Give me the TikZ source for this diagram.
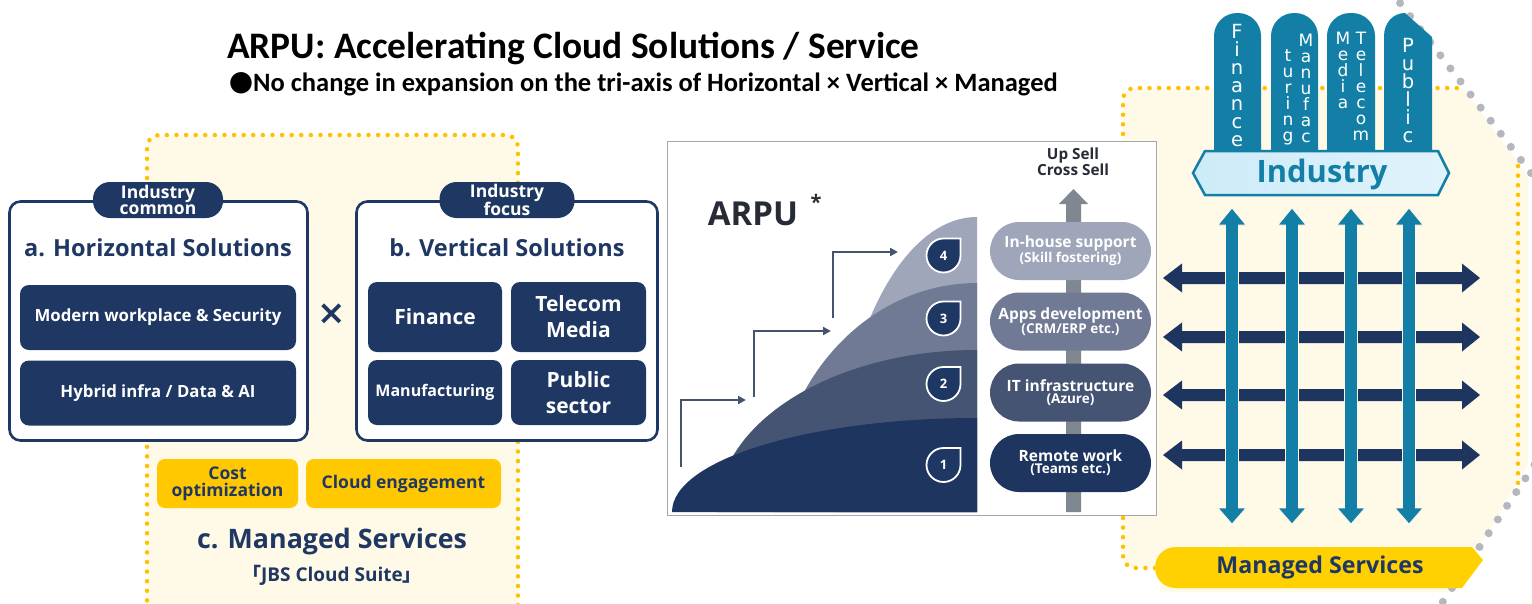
\documentclass[tikz,border=0pt]{standalone}
\usepackage{fontspec}
\setmainfont{Open Sans}
\newfontfamily\calfont{Carlito}
\newfontfamily\dejafont{DejaVu Sans}
\newfontfamily\cjkfont{Noto Sans CJK JP}
\usetikzlibrary{arrows.meta}
\newcommand\fsz[2]{\fontsize{#1}{#2}\selectfont}

\definecolor{navy}{HTML}{1F3763}
\definecolor{slate}{HTML}{44546A}
\definecolor{layA}{HTML}{1E3560}
\definecolor{layB}{HTML}{465474}
\definecolor{layC}{HTML}{707A94}
\definecolor{layD}{HTML}{9FA6BA}
\definecolor{upgray}{HTML}{7F8790}
\definecolor{gold}{HTML}{FFC800}
\definecolor{goldpill}{HTML}{FFD100}
\definecolor{dotgold}{HTML}{FFC000}
\definecolor{cream}{HTML}{FFF9E7}
\definecolor{dotgray}{HTML}{B4B7BD}
\definecolor{tealc}{HTML}{137FA6}
\definecolor{icebl}{HTML}{CDEBF8}
\definecolor{icebr}{HTML}{E0F3FC}
\definecolor{panelgray}{HTML}{A6A6A6}
\definecolor{inkdark}{HTML}{262B36}

\begin{document}
\begin{tikzpicture}[x=1pt,y=-1pt,
  outerbox/.style={draw=navy, line width=2.6pt, fill=white, rounded corners=11pt, inner sep=0pt},
  tabpill/.style={fill=navy, rounded corners=17pt, text=white, font=\bfseries\fsz{17.5}{16},
    align=center, inner sep=0pt, minimum height=36},
  heading/.style={text=navy, font=\bfseries\fsz{23.5}{26}, inner sep=0pt},
  navybox/.style={fill=navy, rounded corners=9pt, text=white, font=\bfseries\fsz{16.8}{18},
    align=center, inner sep=0pt},
  vbox/.style={navybox, font=\bfseries\fsz{21}{26}},
  ybox/.style={fill=gold, rounded corners=8pt, text=navy, font=\bfseries\fsz{17.5}{17},
    align=center, inner sep=0pt, minimum height=49},
  pill/.style={rounded corners=29pt, minimum width=161, minimum height=58, text=white,
    align=center, inner sep=0pt, font=\bfseries},
  badgenum/.style={text=white, font=\bfseries\fsz{13}{13}, inner sep=0pt},
  badgeshape/.style={fill=navy, draw=white, line width=1.8pt},
  steparrow/.style={draw=slate, line width=2pt, -{Triangle[length=8pt,width=8pt]}},
  yellowdots/.style={draw=dotgold, line width=4.5pt, line cap=round, dash pattern=on 0pt off 9.6pt},
  graydots/.style={draw=dotgray, line width=8pt, line cap=round, dash pattern=on 0pt off 16.5pt},
  pillarletters/.style={text=white, font=\dejafont\fsz{19.5}{18}, align=center, inner sep=0pt},
  pillarsmall/.style={text=white, font=\dejafont\fsz{17}{16}, align=center, inner sep=0pt},
]
\useasboundingbox (0,0) rectangle (1532,603);
\fill[white] (0,0) rectangle (1532,603);

% ---------- heading ----------
\node[anchor=base west, inner sep=0pt, font=\calfont\bfseries\fsz{37.4}{38}] (title) at (227,58)
  {ARPU: Accelerating Cloud Solutions / Service};
\node[inner sep=0pt, font=\dejafont\fsz{28}{28}] (bullet) at (241,83) {●};
\node[anchor=base west, inner sep=0pt, font=\calfont\bfseries\fsz{26.5}{27}] (subtitle) at (253,91)
  {No change in expansion on the tri-axis of Horizontal × Vertical × Managed};

% ---------- left: managed services backdrop ----------
\path[fill=cream, rounded corners=12pt] (147,640) -- (147,135) -- (518,135) -- (518,640) -- cycle;
\draw[yellowdots, rounded corners=12pt] (147,610) -- (147,135) -- (518,135) -- (518,610);

% a. Horizontal Solutions
\node[outerbox, minimum width=298, minimum height=239] (boxA) at (158.5,321) {};
\node[tabpill, minimum width=130] (tabA) at (158,200) {Industry\\common};
\node[heading] (headA) at (158,248) {a. Horizontal Solutions};
\node[navybox, minimum width=276, minimum height=65] (mw) at (158,317.5) {Modern workplace \& Security};
\node[navybox, minimum width=276, minimum height=65] (hy) at (158,393) {Hybrid infra / Data \& AI};

\node[text=navy, inner sep=0pt, font=\dejafont\bfseries\fsz{34}{34}] (times) at (332,314) {×};

% b. Vertical Solutions
\node[outerbox, minimum width=301, minimum height=239] (boxB) at (507,321) {};
\node[tabpill, minimum width=135] (tabB) at (507,200) {Industry\\focus};
\node[heading] (headB) at (507,248) {b. Vertical Solutions};
\node[vbox, minimum width=134, minimum height=70] (vfin) at (435,317) {Finance};
\node[vbox, minimum width=135, minimum height=70] (vtel) at (578.5,317) {Telecom\\Media};
\node[navybox, font=\bfseries\fsz{16}{18}, minimum width=134, minimum height=65] (vman) at (435,392.5) {Manufacturing};
\node[vbox, minimum width=135, minimum height=65] (vpub) at (578.5,392.5) {Public\\sector};

% c. Managed Services
\node[ybox, minimum width=141] (cost) at (227.5,483.5) {Cost\\optimization};
\node[ybox, minimum width=195] (engage) at (403.5,483.5) {Cloud engagement};
\node[text=navy, inner sep=0pt, font=\bfseries\fsz{26.8}{28}] (headC) at (332,542) {c. Managed Services};
\node[text=navy, inner sep=0pt, font=\bfseries\fsz{19}{20}] (suite) at (332,575)
  {{\cjkfont 「}JBS Cloud Suite{\cjkfont 」}};

% ---------- right: industry x managed grid ----------
\path[fill=cream, rounded corners=12pt] (1160,592) -- (1160,568) -- (1123,568) -- (1123,88)
  [sharp corners] -- (1463,88) -- (1528,176) -- (1528,465) -- (1452,592) -- cycle;
\draw[yellowdots, rounded corners=12pt] (1155,568) -- (1123,568) -- (1123,88) -- (1463,88);
\draw[yellowdots] (1518,166) -- (1518,500);
\draw[graydots] (1390,-10) -- (1541,186) -- (1541,455) -- (1442,603);

% pillars
\fill[tealc, rounded corners=23pt] (1214,160) -- (1214,13) -- (1261,13) -- (1261,160);
\fill[tealc, rounded corners=23pt] (1271,160) -- (1271,13) -- (1318,13) -- (1318,160);
\fill[tealc, rounded corners=23pt] (1327,160) -- (1327,13) -- (1375,13) -- (1375,160);
\fill[tealc] (1384,160) -- (1384,36) .. controls (1384,23) and (1393,13) .. (1405,13)
  -- (1432,37) -- (1432,160) -- cycle;

\node[pillarletters] (pfin) at (1237,86) {F\\i\\n\\a\\n\\c\\e};
\node[pillarsmall] (pmanA) at (1306,88) {M\\a\\n\\u\\f\\a\\c};
\node[pillarsmall] (pmanB) at (1288,97) {t\\u\\r\\i\\n\\g};
\node[pillarsmall] (pmed) at (1343,70) {M\\e\\d\\i\\a};
\node[pillarsmall] (ptel) at (1361,86) {T\\e\\l\\e\\c\\o\\m};
\node[pillarletters] (ppub) at (1408,91) {P\\u\\b\\l\\i\\c};

% industry banner
\draw[tealc, line width=2.5pt, left color=icebl, right color=icebr]
  (1193,173) -- (1205,151) -- (1438,151) -- (1449,173) -- (1438,195) -- (1205,195) -- cycle;
\node[text=tealc, inner sep=0pt, font=\bfseries\fsz{30.9}{31}] (industry) at (1322,174) {Industry};

% horizontal double arrows
\foreach \c in {278,337,395,455} {
  \fill[layA] (1163,\c) -- (1182,{\c-14.5}) -- (1182,{\c-6}) -- (1462,{\c-6}) -- (1462,{\c-14.5})
    -- (1480,\c) -- (1462,{\c+14.5}) -- (1462,{\c+6}) -- (1182,{\c+6}) -- (1182,{\c+14.5}) -- cycle;
}
% vertical double arrows
\foreach \v in {1232,1292,1351,1409} {
  \filldraw[fill=tealc, draw=cream, line width=0.8pt] (\v,208) -- ({\v+14},225) -- ({\v+6.5},225)
    -- ({\v+6.5},508) -- ({\v+14},508) -- (\v,524) -- ({\v-14},508) -- ({\v-6.5},508)
    -- ({\v-6.5},225) -- ({\v-14},225) -- cycle;
}

% managed services bar
\fill[goldpill] (1176,547) -- (1472,547) -- (1483,560) -- (1462,588) -- (1176,588)
  .. controls (1164,588) and (1155,579) .. (1155,567.5)
  .. controls (1155,556) and (1164,547) .. (1176,547) -- cycle;
\node[text=navy, inner sep=0pt, font=\bfseries\fsz{23.2}{24}] (managed) at (1320,567) {Managed Services};

% ---------- centre: ARPU growth chart ----------
\node[draw=panelgray, fill=white, line width=1pt, minimum width=489, minimum height=374, inner sep=0pt]
  (panel) at (912,328) {};
\node[text=inkdark, inner sep=0pt, font=\bfseries\fsz{33}{34}] (arpu) at (753,214) {ARPU};
\node[text=inkdark, inner sep=0pt, font=\bfseries\fsz{20}{20}] (star) at (816,202) {*};

% layered stages
\fill[layD] (835,512) .. controls (835,349.1) and (898.6,217) .. (977,217) -- (977,512) -- cycle;
\fill[layC] (774,512) .. controls (774,385.5) and (864.9,283) .. (977,283) -- (977,512) -- cycle;
\fill[layB] (717,512) .. controls (717,422.5) and (833.4,350) .. (977,350) -- (977,512) -- cycle;
\fill[layA] (672,512) .. controls (672,460.1) and (808.5,418) .. (977,418) -- (977,512) -- cycle;

% stage badges
\foreach \y/\n in {255.5/4, 318.5/3, 384/2, 465/1} {
  \draw[badgeshape] (943.5,{\y-17}) -- (960.5,{\y-17}) -- (960.5,\y)
    .. controls (960.5,{\y+9.4}) and (952.9,{\y+17}) .. (943.5,{\y+17})
    .. controls (934.1,{\y+17}) and (926.5,{\y+9.4}) .. (926.5,\y)
    .. controls (926.5,{\y-9.4}) and (934.1,{\y-17}) .. (943.5,{\y-17}) -- cycle;
  \node[badgenum] (badge\n) at (943.5,\y) {\n};
}

% step arrows
\coordinate (sa1) at (681,467); \coordinate (sb1) at (746,400);
\coordinate (sa2) at (754,397); \coordinate (sb2) at (831,331);
\coordinate (sa3) at (833,318); \coordinate (sb3) at (898,252);
\draw[steparrow] (sa1) |- (sb1);
\draw[steparrow] (sa2) |- (sb2);
\draw[steparrow] (sa3) |- (sb3);

% up sell arrow and stages
\fill[upgray] (1066,512) -- (1066,204) -- (1059,204) -- (1073.5,189) -- (1088,204) -- (1081,204)
  -- (1081,512) -- cycle;
\node[text=inkdark, inner sep=0pt, align=center, font=\bfseries\fsz{15.3}{16}] (upsell) at (1073,162)
  {Up Sell\\Cross Sell};

\node[pill, fill=layD] (inhouse) at (1070.5,251)
  {\fsz{15.5}{17}In-house support\\\fsz{13.5}{14}(Skill fostering)};
\node[pill, fill=layC] (apps) at (1070.5,321.5)
  {\fsz{15.5}{17}Apps development\\\fsz{13.5}{14}(CRM/ERP etc.)};
\node[pill, fill=layB] (infra) at (1070.5,392.5)
  {\fsz{15.5}{17}IT infrastructure\\\fsz{13.5}{14}(Azure)};
\node[pill, fill=layA] (remote) at (1070.5,463)
  {\fsz{15.5}{17}Remote work\\\fsz{13.5}{14}(Teams etc.)};

\end{tikzpicture}
\end{document}
